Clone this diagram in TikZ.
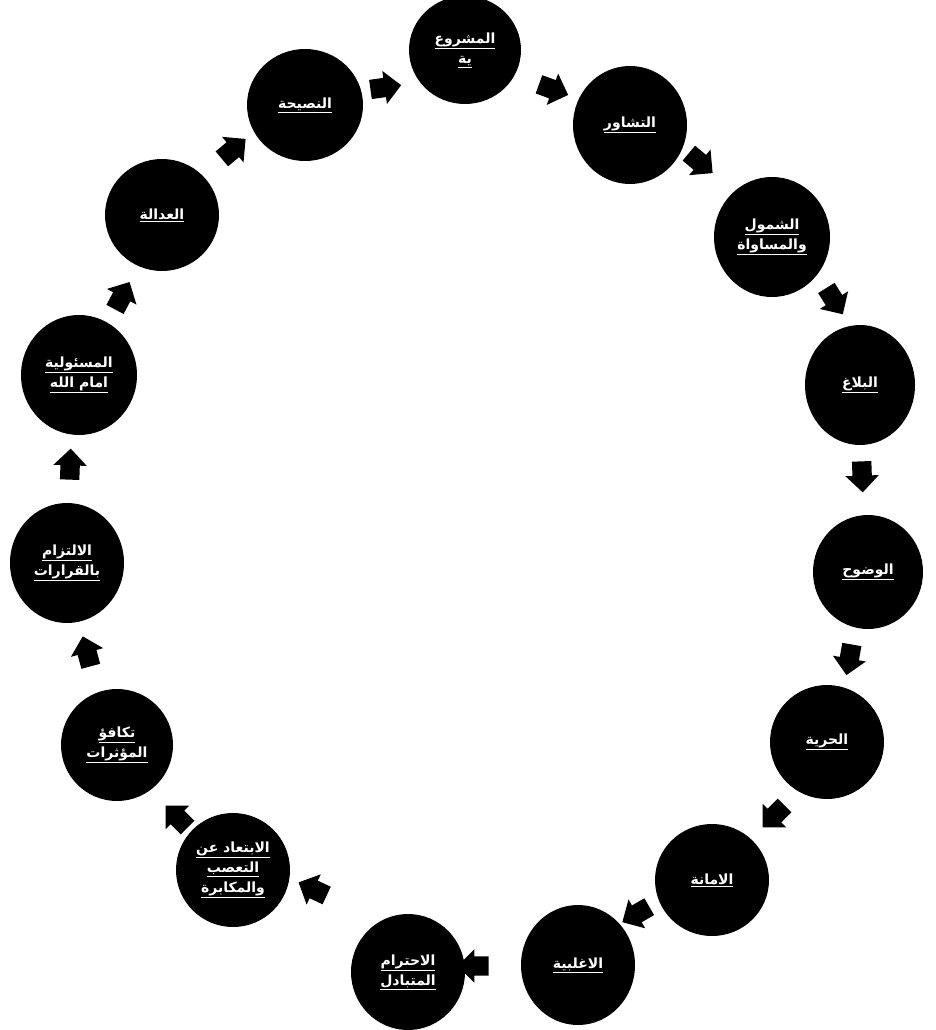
\documentclass[tikz,border=0pt]{standalone}
\usepackage{fontspec}
\usetikzlibrary{shapes.geometric,shapes.arrows}
\newfontfamily\arabicfont[Script=Arabic]{DejaVu Sans}
\TeXXeTstate=1
\newcommand\arl[1]{\underline{\hbox{\arabicfont\bfseries\beginR #1\endR}}}
\begin{document}
\begin{tikzpicture}[x=1pt,y=-1pt,
  disc/.style={ellipse, fill=black, text=white, align=center, inner sep=0pt,
    font=\fontsize{14}{20}\selectfont},
  blk/.style={single arrow, fill=black, draw=none, minimum height=31pt,
    inner sep=0pt, text height=19pt, text depth=0pt, text width=0pt,
    single arrow head extend=7pt, single arrow tip angle=90}]
\path[use as bounding box] (0,0) rectangle (936,1030);
\node[disc, minimum width=112pt, minimum height=108pt] (n1) at (465,50) {\arl{المشروع}\\\arl{ية}};
\node[disc, minimum width=114pt, minimum height=118pt] (n2) at (630,125) {\arl{التشاور}};
\node[disc, minimum width=116pt, minimum height=120pt] (n3) at (772,237) {\arl{الشمول}\\\arl{والمساواة}};
\node[disc, minimum width=110pt, minimum height=120pt] (n4) at (860,385) {\arl{البلاغ}};
\node[disc, minimum width=110pt, minimum height=114pt] (n5) at (868,572) {\arl{الوضوح}};
\node[disc, minimum width=114pt, minimum height=114pt] (n6) at (827,742) {\arl{الحرية}};
\node[disc, minimum width=114pt, minimum height=112pt] (n7) at (712,880) {\arl{الامانة}};
\node[disc, minimum width=114pt, minimum height=120pt] (n8) at (578,965) {\arl{الاغلبية}};
\node[disc, minimum width=114pt, minimum height=116pt] (n9) at (408,972) {\arl{الاحترام}\\\arl{المتبادل}};
\node[disc, minimum width=114pt, minimum height=114pt] (n10) at (233,870) {\arl{الابتعاد عن}\\\arl{التعصب}\\\arl{والمكابرة}};
\node[disc, minimum width=112pt, minimum height=112pt] (n11) at (117,745) {\arl{تكافؤ}\\\arl{المؤثرات}};
\node[disc, minimum width=114pt, minimum height=120pt] (n12) at (67,563) {\arl{الالتزام}\\\arl{بالقرارات}};
\node[disc, minimum width=116pt, minimum height=120pt] (n13) at (79,375) {\arl{المسئولية}\\\arl{امام الله}};
\node[disc, minimum width=114pt, minimum height=112pt] (n14) at (162,215) {\arl{العدالة}};
\node[disc, minimum width=116pt, minimum height=112pt] (n15) at (305,105) {\arl{النصيحة}};
\node[blk, rotate=8] (a1) at (381,88) {};
\node[blk, rotate=-20] (a2) at (549,88) {};
\node[blk, rotate=-40] (a3) at (697,160) {};
\node[blk, rotate=-58] (a4) at (832,297) {};
\node[blk, rotate=-88] (a5) at (862,472) {};
\node[blk, rotate=-100] (a6) at (850,655) {};
\node[blk, rotate=-135] (a7) at (777,813) {};
\node[blk, rotate=-150] (a8) at (640,912) {};
\node[blk, rotate=180] (a9) at (478,966) {};
\node[blk, rotate=155] (a10) at (317,891) {};
\node[blk, rotate=135] (a11) at (180,820) {};
\node[blk, rotate=105] (a12) at (88,656) {};
\node[blk, rotate=88] (a13) at (70,469) {};
\node[blk, rotate=62] (a14) at (120,300) {};
\node[blk, rotate=40] (a15) at (230,152) {};
\end{tikzpicture}
\end{document}
